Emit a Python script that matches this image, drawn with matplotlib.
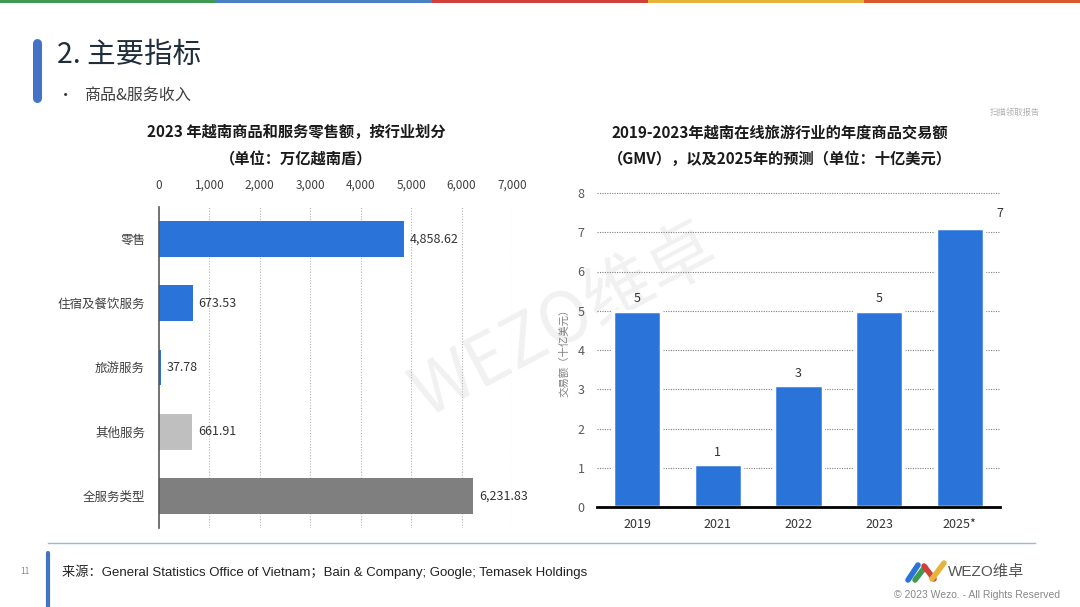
import numpy as np
import matplotlib
matplotlib.use("Agg")
import matplotlib.pyplot as plt
from matplotlib.lines import Line2D

plt.rcParams['font.family'] = ['Noto Sans CJK SC', 'DejaVu Sans']

# ---- data ----
sector_names = ['零售', '住宿及餐饮服务', '旅游服务', '其他服务', '全服务类型']
sector_values = [4858.62, 673.53, 37.78, 661.91, 6231.83]
sector_colors = ['#2a74d9', '#2a74d9', '#2a74d9', '#bfbfbf', '#7f7f7f']
sector_ticks = [0, 1000, 2000, 3000, 4000, 5000, 6000, 7000]

gmv_years = ['2019', '2021', '2022', '2023', '2025*']
gmv_values = [5.0, 1.1, 3.1, 5.0, 7.1]
gmv_ticks = [0, 1, 2, 3, 4, 5, 6, 7, 8]

W, H = 1080, 607


def px(x, y):
    # pixel coords (top-left origin) -> figure fraction
    return x / W, 1 - y / H


def box(x0, y0, x1, y1):
    return [x0 / W, 1 - y1 / H, (x1 - x0) / W, (y1 - y0) / H]


def main():
    fig = plt.figure(figsize=(W / 100, H / 100), dpi=100)
    fig.patch.set_facecolor('white')

    # top colour strip
    strip = ['#3d9a4f', '#4a80c4', '#d0413a', '#e6b43c', '#d9582b']
    for i, c in enumerate(strip):
        fig.add_artist(plt.Rectangle((i / 5, 1 - 3 / H), 1 / 5, 3 / H,
                                     transform=fig.transFigure, color=c, lw=0))

    # header
    fig.add_artist(Line2D([37 / W, 37 / W], [1 - 43 / H, 1 - 98 / H], transform=fig.transFigure,
                          color='#4472c4', lw=6.5, solid_capstyle='round'))
    fig.text(*px(57, 55), '2. 主要指标', fontsize=20.5, color='#1f2d3d', va='center')
    fig.text(*px(58, 95), '•', fontsize=11, color='#333333', va='center')
    fig.text(*px(84, 95), '商品&服务收入', fontsize=11.5, color='#404040', va='center')
    fig.text(*px(1015, 112), '扫描领取报告', fontsize=6, color='#b0b0b0', ha='center', va='center')

    # watermark (behind the charts)
    fig.text(*px(565, 322), 'WEZO维卓', fontsize=50, color='#f1f1f1', ha='center', va='center',
             rotation=28, zorder=-1)

    # ---- left chart ----
    ax1 = fig.add_axes(box(159, 207, 512, 528))
    ax1.set_facecolor('none')
    y = np.arange(len(sector_names))
    ax1.barh(y, sector_values, height=0.56, color=sector_colors, zorder=3)
    ax1.set_ylim(len(sector_names) - 0.5, -0.5)
    ax1.set_xlim(0, 7000)
    ax1.set_yticks(y)
    ax1.set_yticklabels(sector_names, fontsize=9, color='#404040')
    ax1.xaxis.tick_top()
    ax1.set_xticks(sector_ticks)
    ax1.set_xticklabels([f'{t:,}' for t in sector_ticks], fontsize=8.5, color='#404040')
    ax1.tick_params(axis='x', length=0, pad=11)
    ax1.tick_params(axis='y', length=0, pad=10)
    for s in ['top', 'right', 'bottom']:
        ax1.spines[s].set_visible(False)
    ax1.spines['left'].set_color('#595959')
    ax1.spines['left'].set_linewidth(1.2)
    ax1.spines['left'].set_zorder(4)
    for t in sector_ticks[1:]:
        ax1.axvline(t, color='#b5b5b5', lw=0.8, ls=(0, (1, 1.5)), zorder=1)
    for yi, v in zip(y, sector_values):
        ax1.annotate(f'{v:,.2f}', (v, yi), xytext=(4, 0), textcoords='offset points',
                     va='center', ha='left', fontsize=9, color='#333333')

    fig.text(*px(296, 132), '2023 年越南商品和服务零售额，按行业划分', fontsize=11,
             fontweight='bold', color='#1a1a1a', ha='center', va='center')
    fig.text(*px(296, 159), '（单位：万亿越南盾）', fontsize=11,
             fontweight='bold', color='#1a1a1a', ha='center', va='center')

    # ---- right chart ----
    ax2 = fig.add_axes(box(597, 193, 1000, 507))
    ax2.set_facecolor('none')
    x = np.arange(len(gmv_years))
    ax2.bar(x, gmv_values, width=0.6, color='#2a74d9', edgecolor='white', linewidth=2.5, zorder=3)
    ax2.set_xlim(-0.5, len(gmv_years) - 0.5)
    ax2.set_ylim(0, 8)
    ax2.set_xticks(x)
    ax2.set_xticklabels(gmv_years, fontsize=9, color='#333333')
    ax2.set_yticks(gmv_ticks)
    ax2.set_yticklabels([str(t) for t in gmv_ticks], fontsize=9, color='#595959')
    ax2.tick_params(axis='both', length=0)
    ax2.tick_params(axis='x', pad=8)
    ax2.tick_params(axis='y', pad=9)
    for s in ['top', 'right', 'left']:
        ax2.spines[s].set_visible(False)
    ax2.spines['bottom'].set_color('black')
    ax2.spines['bottom'].set_linewidth(2)
    ax2.spines['bottom'].set_zorder(5)
    for t in gmv_ticks[1:]:
        ax2.axhline(t, color='#7f7f7f', lw=0.8, ls=(0, (1, 1.2)), zorder=1, clip_on=False)
    for i, v in enumerate(gmv_values):
        if i == len(gmv_values) - 1:
            off = (29, 10.5)
        else:
            off = (0, 8.5)
        ax2.annotate(f'{v:.0f}', (i, v), xytext=off, textcoords='offset points',
                     ha='center', va='center', fontsize=9, color='#333333', annotation_clip=False)
    ax2.set_ylabel('交易额（十亿美元）', fontsize=7.5, color='#7f7f7f', labelpad=6)

    fig.text(*px(780, 133), '2019-2023年越南在线旅游行业的年度商品交易额', fontsize=11,
             fontweight='bold', color='#1a1a1a', ha='center', va='center')
    fig.text(*px(780, 159), '（GMV），以及2025年的预测（单位：十亿美元）', fontsize=11,
             fontweight='bold', color='#1a1a1a', ha='center', va='center')

    # footer
    fig.add_artist(Line2D([48 / W, 1035 / W], [1 - 543 / H] * 2, transform=fig.transFigure,
                          color='#9fb4d8', lw=1))
    fig.add_artist(Line2D([48 / W, 48 / W], [1 - 553 / H, 0], transform=fig.transFigure,
                          color='#4472c4', lw=3, solid_capstyle='round'))
    fig.text(*px(20, 572), '11', fontsize=6, color='#888888', va='center')
    fig.text(*px(62, 572), '来源：General Statistics Office of Vietnam；Bain & Company; Google; Temasek Holdings',
             fontsize=9.5, color='#222222', va='center', family=['Liberation Sans', 'Noto Sans CJK SC'])

    # logo swoosh
    logo = [('#2a74d9', [(908, 580), (918, 565)]), ('#3d9a4f', [(915, 580), (925, 567)]),
            ('#d0413a', [(924, 566), (934, 579)]), ('#e6b43c', [(932, 579), (944, 563)])]
    for c, pts in logo:
        xs = [p[0] / W for p in pts]
        ys = [1 - p[1] / H for p in pts]
        fig.add_artist(Line2D(xs, ys, transform=fig.transFigure, color=c, lw=4, solid_capstyle='round'))
    fig.text(*px(948, 572), 'WEZO维卓', fontsize=11, color='#555555', va='center',
             family=['Liberation Sans', 'Noto Sans CJK SC'])
    fig.text(*px(1060, 595), '© 2023 Wezo. - All Rights Reserved', fontsize=7.5, color='#888888',
             ha='right', va='center', family=['Liberation Sans', 'DejaVu Sans'])

    plt.savefig('out.png', dpi=100)
    plt.close()


if __name__ == "__main__":
    main()
